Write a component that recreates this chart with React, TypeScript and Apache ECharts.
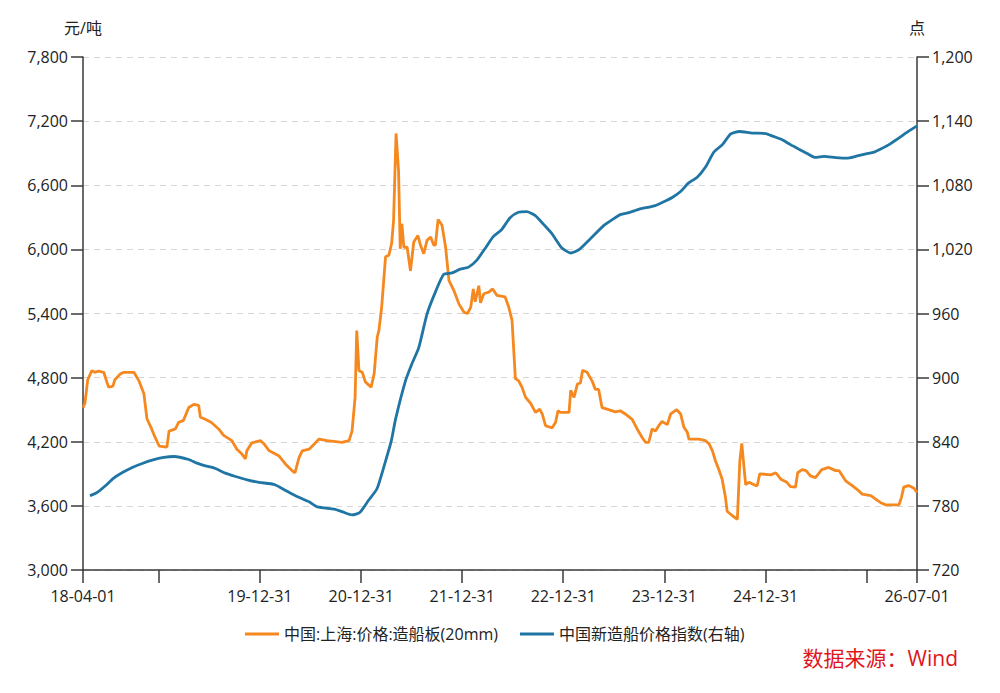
import React, { useEffect, useRef } from 'react';
import * as echarts from 'echarts';

const FONT = '"Open Sans", "Noto Sans CJK SC", sans-serif';

// 中国:上海:价格:造船板(20mm), 元/吨
const platePrice: [string, number][] = [
  ['2018-04-01', 4520], ['2018-04-08', 4560], ['2018-04-18', 4780], ['2018-05-03', 4866],
  ['2018-05-13', 4850], ['2018-05-27', 4860], ['2018-06-15', 4850], ['2018-06-26', 4760],
  ['2018-07-03', 4710], ['2018-07-18', 4720], ['2018-07-25', 4780], ['2018-08-14', 4835],
  ['2018-08-27', 4850], ['2018-10-02', 4850], ['2018-10-20', 4770], ['2018-11-07', 4650],
  ['2018-11-18', 4415], ['2018-12-05', 4320], ['2018-12-16', 4250], ['2019-01-01', 4160],
  ['2019-01-29', 4150], ['2019-02-06', 4300], ['2019-03-01', 4320], ['2019-03-12', 4380],
  ['2019-03-30', 4400], ['2019-04-18', 4520], ['2019-05-06', 4550], ['2019-05-24', 4540],
  ['2019-05-30', 4430], ['2019-06-17', 4410], ['2019-07-09', 4380], ['2019-08-04', 4320],
  ['2019-08-22', 4260], ['2019-09-21', 4210], ['2019-10-09', 4130], ['2019-10-27', 4085],
  ['2019-11-09', 4040], ['2019-11-14', 4115], ['2019-12-02', 4190], ['2020-01-03', 4210],
  ['2020-01-15', 4180], ['2020-02-03', 4115], ['2020-03-08', 4070], ['2020-04-02', 3990],
  ['2020-04-25', 3930], ['2020-05-06', 3910], ['2020-05-20', 4050], ['2020-06-01', 4115],
  ['2020-06-26', 4130], ['2020-07-19', 4190], ['2020-08-01', 4225], ['2020-08-30', 4210],
  ['2020-10-22', 4195], ['2020-11-17', 4210], ['2020-11-28', 4300], ['2020-12-09', 4615],
  ['2020-12-15', 5240], ['2020-12-23', 4865], ['2021-01-04', 4850], ['2021-01-15', 4760],
  ['2021-02-05', 4710], ['2021-02-16', 4840], ['2021-02-27', 5180], ['2021-03-05', 5240],
  ['2021-03-15', 5460], ['2021-03-29', 5930], ['2021-04-10', 5945], ['2021-04-20', 6055],
  ['2021-04-27', 6270], ['2021-05-06', 7085], ['2021-05-15', 6740], ['2021-05-21', 6005],
  ['2021-05-27', 6240], ['2021-06-03', 6020], ['2021-06-15', 6020], ['2021-06-27', 5800],
  ['2021-07-09', 6070], ['2021-07-24', 6130], ['2021-08-02', 6040], ['2021-08-14', 5960],
  ['2021-08-26', 6085], ['2021-09-08', 6115], ['2021-09-19', 6040], ['2021-09-25', 6040],
  ['2021-10-05', 6280], ['2021-10-19', 6225], ['2021-11-01', 6020], ['2021-11-13', 5710],
  ['2021-12-01', 5615], ['2021-12-19', 5490], ['2022-01-07', 5410], ['2022-01-19', 5400],
  ['2022-01-31', 5460], ['2022-02-09', 5630], ['2022-02-16', 5510], ['2022-03-01', 5660],
  ['2022-03-07', 5500], ['2022-03-19', 5585], ['2022-04-06', 5600], ['2022-04-20', 5630],
  ['2022-05-05', 5570], ['2022-06-04', 5555], ['2022-06-17', 5460], ['2022-06-29', 5335],
  ['2022-07-11', 4790], ['2022-07-23', 4770], ['2022-08-04', 4710], ['2022-08-17', 4615],
  ['2022-09-04', 4560], ['2022-09-22', 4475], ['2022-10-07', 4505], ['2022-10-16', 4460],
  ['2022-10-28', 4350], ['2022-11-21', 4330], ['2022-12-03', 4380], ['2022-12-12', 4490],
  ['2022-12-21', 4475], ['2023-01-21', 4475], ['2023-01-27', 4680], ['2023-02-08', 4615],
  ['2023-02-20', 4740], ['2023-03-03', 4750], ['2023-03-11', 4870], ['2023-03-27', 4850],
  ['2023-04-14', 4770], ['2023-04-26', 4690], ['2023-05-08', 4690], ['2023-05-20', 4520],
  ['2023-06-13', 4500], ['2023-07-07', 4480], ['2023-07-25', 4490], ['2023-08-12', 4460],
  ['2023-09-06', 4410], ['2023-09-24', 4320], ['2023-10-12', 4240], ['2023-10-24', 4195],
  ['2023-11-05', 4195], ['2023-11-17', 4320], ['2023-11-29', 4300], ['2023-12-11', 4350],
  ['2023-12-23', 4390], ['2024-01-11', 4360], ['2024-01-23', 4460], ['2024-02-14', 4500],
  ['2024-02-28', 4460], ['2024-03-11', 4335], ['2024-03-23', 4290], ['2024-03-29', 4225],
  ['2024-05-04', 4225], ['2024-05-28', 4210], ['2024-06-10', 4180], ['2024-06-22', 4115],
  ['2024-07-03', 4020], ['2024-07-15', 3940], ['2024-07-27', 3850], ['2024-08-08', 3680],
  ['2024-08-14', 3550], ['2024-09-01', 3510], ['2024-09-20', 3475], ['2024-09-29', 4020],
  ['2024-10-06', 4185], ['2024-10-14', 3960], ['2024-10-20', 3800], ['2024-11-01', 3820],
  ['2024-11-25', 3790], ['2024-12-01', 3790], ['2024-12-10', 3900], ['2025-01-19', 3890],
  ['2025-02-06', 3910], ['2025-02-24', 3850], ['2025-03-18', 3820], ['2025-03-31', 3780],
  ['2025-04-18', 3775], ['2025-04-26', 3910], ['2025-05-12', 3940], ['2025-05-26', 3930],
  ['2025-06-11', 3880], ['2025-06-29', 3865], ['2025-07-22', 3940], ['2025-08-16', 3960],
  ['2025-09-10', 3930], ['2025-09-22', 3930], ['2025-10-16', 3835], ['2025-11-09', 3790],
  ['2025-12-03', 3740], ['2025-12-15', 3710], ['2026-01-15', 3695], ['2026-02-03', 3660],
  ['2026-02-20', 3630], ['2026-03-09', 3610], ['2026-04-27', 3610], ['2026-05-06', 3680],
  ['2026-05-14', 3775], ['2026-06-01', 3790], ['2026-06-20', 3765], ['2026-07-01', 3725],
];

// 中国新造船价格指数, 点 (right axis)
const newbuildIndex: [string, number][] = [
  ['2018-04-26', 789.4], ['2018-05-22', 792.5], ['2018-06-21', 798.8], ['2018-07-21', 806],
  ['2018-08-20', 811], ['2018-09-26', 816], ['2018-11-01', 819.7], ['2018-12-07', 822.8],
  ['2019-01-18', 825.3], ['2019-02-24', 826.2], ['2019-04-18', 823.4], ['2019-05-18', 820],
  ['2019-06-17', 817.5], ['2019-07-23', 815], ['2019-08-28', 810.6], ['2019-10-04', 807.5],
  ['2019-11-15', 804.4], ['2019-12-28', 802], ['2020-02-21', 800], ['2020-04-02', 794.4],
  ['2020-05-08', 789.4], ['2020-06-26', 783.8], ['2020-07-26', 779], ['2020-09-25', 776.9],
  ['2020-10-25', 774.4], ['2020-11-28', 771.6], ['2020-12-26', 773.8], ['2021-01-26', 785],
  ['2021-02-26', 796], ['2021-03-24', 817.5], ['2021-04-19', 841], ['2021-05-04', 861],
  ['2021-06-09', 897], ['2021-07-02', 912.8], ['2021-07-27', 928], ['2021-08-26', 959.6],
  ['2021-09-25', 980], ['2021-10-25', 996.6], ['2021-11-24', 998], ['2021-12-24', 1001.5],
  ['2022-01-23', 1003.4], ['2022-02-21', 1009.7], ['2022-03-23', 1020.6], ['2022-04-22', 1032],
  ['2022-05-22', 1038.4], ['2022-06-22', 1049.6], ['2022-07-22', 1054.7], ['2022-08-21', 1055.3],
  ['2022-09-21', 1051.6], ['2022-10-21', 1043.4], ['2022-11-20', 1034.7], ['2022-12-25', 1021.6],
  ['2023-01-27', 1016.6], ['2023-02-26', 1019.7], ['2023-04-08', 1030], ['2023-05-27', 1042.5],
  ['2023-06-26', 1047.8], ['2023-07-25', 1052.5], ['2023-08-25', 1054.4], ['2023-09-30', 1057.5],
  ['2023-11-29', 1061], ['2023-12-31', 1064.7], ['2024-01-30', 1068.8], ['2024-02-29', 1074.4],
  ['2024-03-27', 1082], ['2024-04-28', 1087.5], ['2024-05-28', 1097], ['2024-06-27', 1111],
  ['2024-07-28', 1118], ['2024-08-27', 1128], ['2024-09-27', 1130.3], ['2024-11-13', 1128.8],
  ['2025-01-01', 1128.4], ['2025-01-25', 1126], ['2025-03-01', 1122.6], ['2025-03-31', 1118],
  ['2025-04-30', 1113.8], ['2025-05-30', 1109.7], ['2025-06-29', 1106], ['2025-07-30', 1107],
  ['2025-09-10', 1105.9], ['2025-10-21', 1105.3], ['2025-11-21', 1107], ['2025-12-28', 1109.4],
  ['2026-01-27', 1111], ['2026-02-20', 1114], ['2026-03-22', 1118], ['2026-04-27', 1124.4],
  ['2026-05-27', 1129.7], ['2026-07-01', 1135.5],
];

const seriesNames = ['中国:上海:价格:造船板(20mm)', '中国新造船价格指数(右轴)'];
const axisStart = '2018-04-01';
const axisEnd = '2026-07-01';
const tickDates = [
  '2018-04-01', '2018-12-31', '2019-12-31', '2020-12-31', '2021-12-31',
  '2022-12-31', '2023-12-31', '2024-12-31', '2025-12-31', '2026-07-01',
];
const labelDates = [
  '2018-04-01', '2019-12-31', '2020-12-31', '2021-12-31',
  '2022-12-31', '2023-12-31', '2024-12-31', '2026-07-01',
];
const leftRange = [3000, 7800, 600];
const rightRange = [720, 1200, 60];

const toTime = (d: string) => +echarts.time.parse(d);
const withComma = (v: number) => v.toLocaleString('en-US');

const App: React.FC = () => {
  const chartRef = useRef<HTMLDivElement>(null);

  useEffect(() => {
    const chart = echarts.init(chartRef.current!, null, { renderer: 'svg' });

    const axisColor = '#3a3a3a';
    const labelColor = '#222';

    // x is a plain value axis holding timestamps, so custom tick positions work
    const options = {
      animation: false,
      textStyle: { fontFamily: FONT },
      grid: { left: 83, right: 83, top: 57, bottom: 123, containLabel: false },
      legend: {
        data: seriesNames,
        left: 240,
        top: 621,
        icon: 'rect',
        itemWidth: 34,
        itemHeight: 3,
        itemGap: 22,
        textStyle: { fontSize: 16, color: labelColor, fontFamily: FONT },
      },
      xAxis: {
        type: 'value',
        min: toTime(axisStart),
        max: toTime(axisEnd),
        axisLine: { show: true, lineStyle: { color: axisColor, width: 1.5 } },
        axisTick: {
          show: true,
          length: 13,
          customValues: tickDates.map(toTime),
          lineStyle: { color: axisColor, width: 1.5 },
        },
        axisLabel: {
          customValues: labelDates.map(toTime),
          formatter: (v: number) => echarts.time.format(v, '{yy}-{MM}-{dd}', false),
          margin: 18,
          fontSize: 16,
          color: labelColor,
          showMinLabel: true,
          showMaxLabel: true,
        },
        splitLine: { show: false },
      },
      yAxis: [
        {
          type: 'value',
          name: '元/吨',
          nameLocation: 'end',
          nameGap: 21,
          nameTextStyle: { fontSize: 16, color: labelColor },
          min: leftRange[0],
          max: leftRange[1],
          interval: leftRange[2],
          axisLine: { show: true, lineStyle: { color: axisColor, width: 1.5 } },
          axisTick: { show: true, length: 12, lineStyle: { color: axisColor, width: 1.5 } },
          axisLabel: { margin: 15, fontSize: 16, color: labelColor, formatter: withComma },
          splitLine: { show: true, lineStyle: { color: '#d6d6d6', type: [6, 5], width: 1 } },
        },
        {
          type: 'value',
          name: '点',
          nameLocation: 'end',
          nameGap: 21,
          nameTextStyle: { fontSize: 16, color: labelColor },
          min: rightRange[0],
          max: rightRange[1],
          interval: rightRange[2],
          position: 'right',
          axisLine: { show: true, lineStyle: { color: axisColor, width: 1.5 } },
          axisTick: { show: true, length: 12, lineStyle: { color: axisColor, width: 1.5 } },
          axisLabel: { margin: 15, fontSize: 16, color: labelColor, formatter: withComma },
          splitLine: { show: false },
        },
      ],
      graphic: [
        {
          type: 'text',
          right: 42,
          top: 647,
          style: {
            text: '数据来源：Wind',
            fill: '#e0161c',
            font: `21px ${FONT}`,
          },
        },
      ],
      series: [
        {
          name: seriesNames[0],
          type: 'line',
          yAxisIndex: 0,
          showSymbol: false,
          symbol: 'none',
          data: platePrice.map(([d, v]) => [toTime(d), v]),
          lineStyle: { color: '#f5881f', width: 2.8 },
          itemStyle: { color: '#f5881f' },
        },
        {
          name: seriesNames[1],
          type: 'line',
          yAxisIndex: 1,
          showSymbol: false,
          symbol: 'none',
          smooth: 0.2,
          data: newbuildIndex.map(([d, v]) => [toTime(d), v]),
          lineStyle: { color: '#1f75a3', width: 2.8 },
          itemStyle: { color: '#1f75a3' },
        },
      ],
    };

    chart.setOption(options);

    return () => {
      chart.dispose();
    };
  }, []);

  return (
    <div
      ref={chartRef}
      style={{ position: 'fixed', left: 0, top: 0, width: '1000px', height: '693px', background: '#fff' }}
    />
  );
};

export default App;
